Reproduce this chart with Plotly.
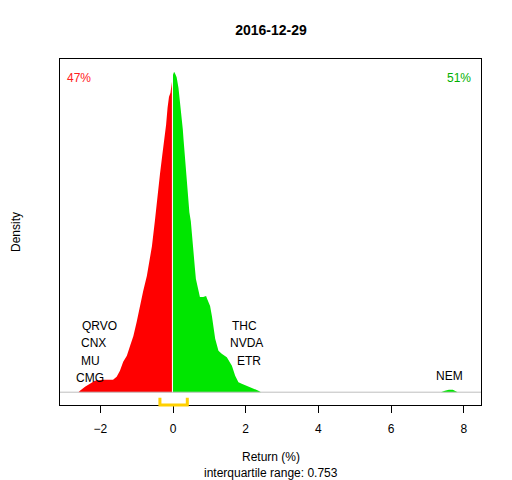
import plotly.graph_objects as go

# density of daily returns
neg_ret = [-2.60, -2.56, -2.42, -2.28, -2.15, -1.93, -1.65, -1.55, -1.46, -1.37, -1.27,
           -1.18, -1.09, -1.00, -0.91, -0.82, -0.72, -0.63, -0.58, -0.50, -0.45, -0.40,
           -0.36, -0.30, -0.24, -0.19, -0.15, -0.11, -0.07, -0.05, -0.03]
neg_dens = [0.000, 0.003, 0.011, 0.017, 0.023, 0.025, 0.025, 0.031, 0.043, 0.061, 0.073,
            0.093, 0.113, 0.141, 0.173, 0.203, 0.233, 0.271, 0.293, 0.343, 0.381, 0.411,
            0.437, 0.473, 0.507, 0.537, 0.571, 0.593, 0.601, 0.623, 0.623]

pos_ret = [0.00, 0.03, 0.06, 0.10, 0.15, 0.17, 0.21, 0.24, 0.27, 0.29, 0.33, 0.36, 0.39,
           0.41, 0.45, 0.49, 0.52, 0.56, 0.60, 0.63, 0.67, 0.71, 0.74, 0.83, 0.91, 0.94,
           0.98, 1.02, 1.07, 1.11, 1.16, 1.25, 1.34, 1.48, 1.62, 1.71, 1.80, 1.89, 2.03,
           2.17, 2.35, 2.42, 7.37, 7.48, 7.59, 7.70, 7.83]
pos_dens = [0.637, 0.643, 0.639, 0.632, 0.611, 0.597, 0.581, 0.547, 0.527, 0.507, 0.467,
            0.433, 0.413, 0.381, 0.361, 0.343, 0.313, 0.281, 0.251, 0.227, 0.213, 0.201,
            0.191, 0.191, 0.193, 0.187, 0.181, 0.173, 0.153, 0.133, 0.107, 0.083, 0.077,
            0.070, 0.053, 0.033, 0.020, 0.017, 0.013, 0.008, 0.003, 0.000, 0.000, 0.003,
            0.005, 0.005, 0.000]

neg_names = ["QRVO", "CNX", "MU", "CMG"]
neg_vals = [-2.01, -2.20, -2.26, -2.29]
pos_names = ["THC", "NVDA", "ETR"]
pos_vals = [1.98, 2.02, 2.09]
top_names = ["NEM"]
top_vals = [7.62]

pct_down = "47%"
pct_up = "51%"
q1, iqr = -0.36, 0.753
title = "2016-12-29"
ticks = [-2, 0, 2, 4, 6, 8]

font = "Liberation Sans, Arial, sans-serif"
peak = max(neg_dens + pos_dens)

fig = go.Figure()
fig.add_trace(go.Scatter(x=neg_ret, y=neg_dens, fill="tozeroy", mode="lines",
                         line=dict(width=0, color="#FF0000"), fillcolor="#FF0000",
                         hoverinfo="skip"))
fig.add_trace(go.Scatter(x=pos_ret, y=pos_dens, fill="tozeroy", mode="lines",
                         line=dict(width=0, color="#00E600"), fillcolor="#00E600",
                         hoverinfo="skip"))

# baseline
fig.add_shape(type="line", xref="paper", yref="y", x0=0, x1=1, y0=0, y1=0,
              line=dict(color="#BEBEBE", width=1))

# IQR bracket below the baseline
fig.add_shape(type="path", xref="x", yref="paper",
              path=f"M {q1},0.021 L {q1},0.0 L {q1 + iqr},0.0 L {q1 + iqr},0.021",
              line=dict(color="#FFD000", width=3))

def label_rows(names, vals, start):
    step = 0.035 * peak / 0.643
    for i, (n, v) in enumerate(zip(names, vals)):
        fig.add_annotation(x=v, y=(start - i) * step, text=n, showarrow=False,
                           xanchor="center", yanchor="middle",
                           font=dict(family=font, size=12, color="black"))

label_rows(neg_names, neg_vals, 3.8)
label_rows(pos_names, pos_vals, 3.8)
label_rows(top_names, top_vals, 0.9)

fig.add_annotation(xref="paper", yref="paper", x=0.045, y=0.945, text=pct_down,
                   xanchor="center", yanchor="middle",
                   showarrow=False, font=dict(family=font, size=12, color="#FF2020"))
fig.add_annotation(xref="paper", yref="paper", x=0.947, y=0.945, text=pct_up,
                   xanchor="center", yanchor="middle",
                   showarrow=False, font=dict(family=font, size=12, color="#00B000"))

fig.add_annotation(xref="paper", yref="paper", x=0, y=0.5, xshift=-44, text="Density",
                   textangle=-90, showarrow=False, xanchor="center", yanchor="middle",
                   font=dict(family=font, size=12, color="black"))
fig.add_annotation(xref="paper", yref="paper", x=0.5, y=0, yshift=-52, text="Return (%)",
                   xanchor="center", yanchor="middle",
                   showarrow=False, font=dict(family=font, size=12, color="black"))
fig.add_annotation(xref="paper", yref="paper", x=0.5, y=0, yshift=-68,
                   text=f"interquartile range: {iqr}", xanchor="center", yanchor="middle",
                   showarrow=False, font=dict(family=font, size=12, color="black"))

# page has an 8px body margin, so the figure is 504x472 placed at (8, 8)
fig.update_layout(
    width=504, height=472,
    margin=dict(l=52, r=31, t=51, b=75),
    paper_bgcolor="white", plot_bgcolor="white",
    showlegend=False,
    title=dict(text=f"<b>{title}</b>", x=0.5218, xanchor="center", y=0.953,
               yanchor="middle",
               font=dict(family=font, size=14, color="black")),
)
fig.update_xaxes(range=[-3.109, 8.473], tickvals=ticks, ticks="outside", ticklen=7,
                 tickcolor="black", showgrid=False, zeroline=False,
                 showline=True, mirror=True, linecolor="black", linewidth=1,
                 ticklabelstandoff=6,
                 tickfont=dict(family=font, size=12, color="black"))
fig.update_yaxes(range=[-0.04 * peak, 1.04 * peak], showticklabels=False, ticks="",
                 showgrid=False, zeroline=False,
                 showline=True, mirror=True, linecolor="black", linewidth=1)

fig.write_html("out.html")
